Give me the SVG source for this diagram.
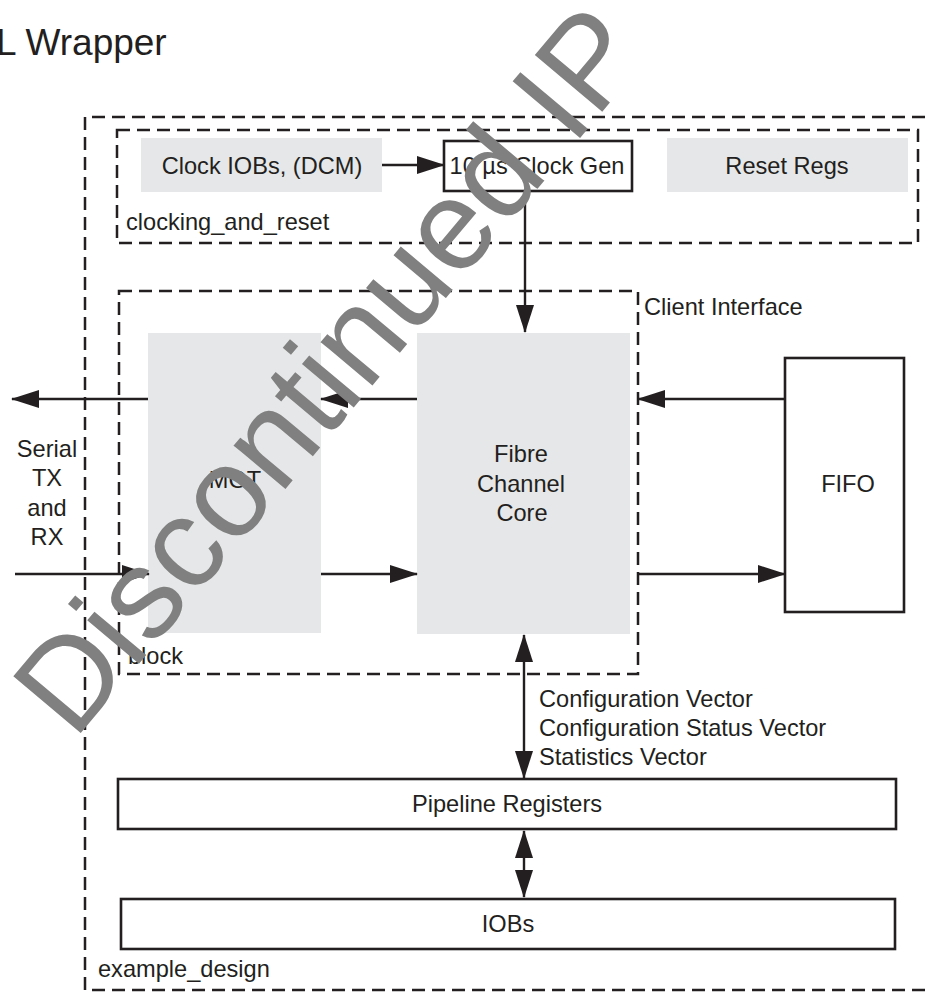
<svg xmlns="http://www.w3.org/2000/svg" width="932" height="992" viewBox="0 0 932 992">
<style>
text{font-family:"Liberation Sans",Arial,sans-serif;font-size:23.6px;fill:#231f20}
.mid{text-anchor:middle}
.dash{fill:none;stroke:#231f20;stroke-width:2.5;stroke-dasharray:13 7}
.gray{fill:#e6e7e8;stroke:none}
.box{fill:#fff;stroke:#231f20;stroke-width:2.6}
.ln{fill:none;stroke:#231f20;stroke-width:2.4}
.wm{font-size:128px;fill:#808080}
</style>
<defs>
<marker id="ah" markerUnits="userSpaceOnUse" markerWidth="28" markerHeight="18" refX="27" refY="9" orient="auto-start-reverse" viewBox="0 0 28 18">
<path d="M0,0 L28,9 L0,18 z" fill="#231f20"/>
</marker>
</defs>
<rect width="932" height="992" fill="#fff"/>
<text x="-4" y="55" style="font-size:37px">L Wrapper</text>

<g id="example_design">
<path class="dash" d="M945,117 H85 V990 H945"/>
<text x="98" y="977">example_design</text>
</g>
<g id="clocking_and_reset">
<rect class="dash" x="117" y="130" width="801" height="113"/>
<text x="126" y="230">clocking_and_reset</text>
</g>
<g id="block">
<rect class="dash" x="119" y="291" width="519" height="383"/>
<text x="128" y="664">block</text>
<text x="644" y="315">Client Interface</text>
</g>
<g id="clock_iobs">
<rect class="gray" x="141" y="138" width="241" height="54"/>
<text class="mid" x="262" y="174">Clock IOBs, (DCM)</text>
</g>
<g id="clock_gen">
<rect class="box" x="444" y="141" width="188" height="50"/>
<text class="mid" x="537" y="174">10 µs Clock Gen</text>
</g>
<g id="reset_regs">
<rect class="gray" x="667" y="138" width="241" height="54"/>
<text class="mid" x="787" y="174">Reset Regs</text>
</g>
<g id="mgt">
<rect class="gray" x="148" y="333" width="173" height="300"/>
<text class="mid" x="235" y="488">MGT</text>
</g>
<g id="core">
<rect class="gray" x="417" y="333" width="213" height="301"/>
<text class="mid" x="521" y="462">Fibre</text>
<text class="mid" x="521" y="492">Channel</text>
<text class="mid" x="522" y="521">Core</text>
</g>
<g id="fifo">
<rect class="box" x="785" y="358" width="119" height="254"/>
<text class="mid" x="848" y="492">FIFO</text>
</g>
<g id="serial">
<text class="mid" x="47" y="457">Serial</text>
<text class="mid" x="47" y="486">TX</text>
<text class="mid" x="47" y="516">and</text>
<text class="mid" x="47" y="545">RX</text>
</g>
<g id="pipeline">
<rect class="box" x="118" y="779" width="778" height="50"/>
<text class="mid" x="507" y="812">Pipeline Registers</text>
</g>
<g id="iobs">
<rect class="box" x="121" y="899" width="774" height="50"/>
<text class="mid" x="508" y="932">IOBs</text>
</g>
<g id="vectors">
<text x="539" y="707">Configuration Vector</text>
<text x="539" y="736">Configuration Status Vector</text>
<text x="539" y="765">Statistics Vector</text>
</g>

<g id="connectors">
<line class="ln" x1="382" y1="165" x2="444" y2="165" marker-end="url(#ah)"/>
<line class="ln" x1="525" y1="191" x2="525" y2="332" marker-end="url(#ah)"/>
<line class="ln" x1="785" y1="399" x2="638" y2="399" marker-end="url(#ah)"/>
<line class="ln" x1="417" y1="399" x2="321" y2="399" marker-end="url(#ah)"/>
<line class="ln" x1="148" y1="399" x2="12" y2="399" marker-end="url(#ah)"/>
<line class="ln" x1="15" y1="574" x2="149" y2="574" marker-end="url(#ah)"/>
<line class="ln" x1="321" y1="574" x2="417" y2="574" marker-end="url(#ah)"/>
<line class="ln" x1="637" y1="574" x2="785" y2="574" marker-end="url(#ah)"/>
<line class="ln" x1="524" y1="635" x2="524" y2="778" marker-start="url(#ah)" marker-end="url(#ah)"/>
<line class="ln" x1="524" y1="831" x2="524" y2="897" marker-start="url(#ah)" marker-end="url(#ah)"/>
</g>

<text class="wm" transform="translate(74,741) rotate(-50)">Discontinued IP</text>
</svg>
